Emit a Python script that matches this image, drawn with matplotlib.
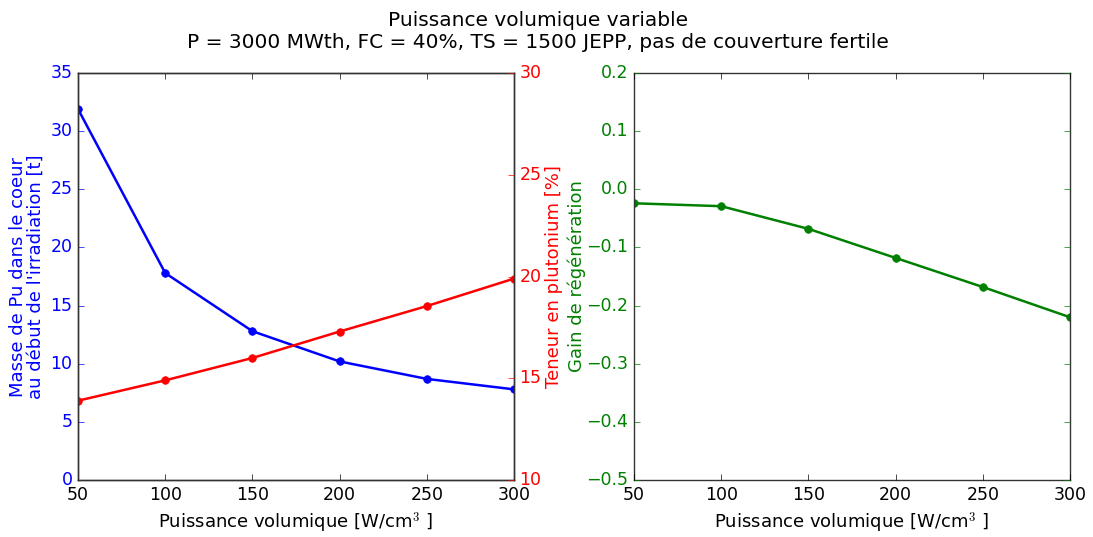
import matplotlib
matplotlib.use("Agg")
import matplotlib.pyplot as plt

plt.style.use('classic')
plt.rcParams['font.size'] = 13

puissance = [50, 100, 150, 200, 250, 300]
masse_pu = [31.9, 17.8, 12.8, 10.2, 8.7, 7.8]
teneur_pu = [13.9, 14.9, 16.0, 17.3, 18.55, 19.9]
gain_regen = [-0.024, -0.029, -0.068, -0.118, -0.168, -0.220]

fig = plt.figure(figsize=(10.93, 5.37), dpi=100, facecolor='white')
ax1 = fig.add_axes([0.0714, 0.106, 0.3989, 0.758])
ax3 = fig.add_axes([0.5801, 0.106, 0.3989, 0.758])

ax1.plot(puissance, masse_pu, color='b', marker='o', lw=1.8, ms=5.5, mec='b')
ax1.set_ylim(0, 35)
ax1.set_xlim(50, 300)
ax1.set_ylabel("Masse de Pu dans le coeur\nau début de l'irradiation [t]", color='b', fontsize=13,
               linespacing=1.0)
ax1.yaxis.set_label_coords(-0.076, 0.5)
ax1.tick_params(axis='y', colors='b', labelsize=12.5)
ax1.tick_params(axis='x', labelsize=12.5)
ax1.set_xlabel("Puissance volumique [W/cm$^3$ ]", fontsize=13)

ax2 = ax1.twinx()
ax2.plot(puissance, teneur_pu, color='r', marker='o', lw=1.8, ms=5.5, mec='r')
ax2.set_ylim(10, 30)
ax2.set_xlim(50, 300)
ax2.set_ylabel("Teneur en plutonium [%]", color='r', fontsize=13)
ax2.yaxis.set_label_coords(1.072, 0.5)
ax2.tick_params(axis='y', colors='r', labelsize=12.5)

ax3.plot(puissance, gain_regen, color='g', marker='o', lw=1.8, ms=5.5, mec='g')
ax3.set_ylim(-0.5, 0.2)
ax3.set_xlim(50, 300)
ax3.set_ylabel("Gain de régénération", color='g', fontsize=13)
ax3.yaxis.set_label_coords(-0.11, 0.5)
ax3.tick_params(axis='y', colors='g', labelsize=12.5)
ax3.tick_params(axis='x', labelsize=12.5)
ax3.set_xlabel("Puissance volumique [W/cm$^3$ ]", fontsize=13)

fig.suptitle("Puissance volumique variable\nP = 3000 MWth, FC = 40%, TS = 1500 JEPP, pas de couverture fertile",
             fontsize=14.5, x=0.492, y=0.98)

for ax in (ax1, ax2, ax3):
    for sp in ax.spines.values():
        sp.set_color('0.2')

fig.savefig("out.png", dpi=100, facecolor='white')
